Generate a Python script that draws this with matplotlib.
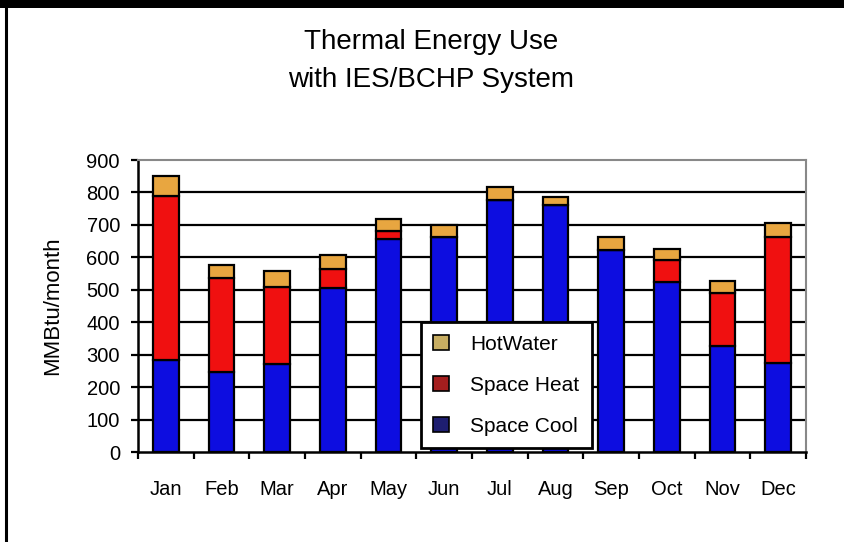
import matplotlib
matplotlib.use("Agg")
import matplotlib.pyplot as plt
from matplotlib.patches import Patch, Rectangle
from matplotlib.lines import Line2D

months = ["Jan", "Feb", "Mar", "Apr", "May", "Jun",
          "Jul", "Aug", "Sep", "Oct", "Nov", "Dec"]
space_cool = [285, 248, 272, 505, 656, 664, 778, 762, 623, 525, 327, 273]
space_heat = [505, 287, 238, 60, 26, 0, 0, 0, 0, 67, 164, 391]
hot_water = [60, 40, 47, 42, 36, 35, 40, 25, 40, 33, 36, 43]
y_ticks = [0, 100, 200, 300, 400, 500, 600, 700, 800, 900]

title = "Thermal Energy Use\nwith IES/BCHP System"
y_label = "MMBtu/month"
series_names = ["HotWater", "Space Heat", "Space Cool"]

c_cool = "#0d0de0"
c_heat = "#f01010"
c_hw = "#e8a640"
leg_colors = ["#c8ae62", "#a41e1e", "#1e1e70"]

plt.rcParams['font.family'] = ['Liberation Sans', 'DejaVu Sans']

W, H = 845, 542
fig = plt.figure(figsize=(W / 100, H / 100), dpi=100)
fig.patch.set_facecolor("white")

# frame decorations (top band, left line)
fig.add_artist(Rectangle((0, 1 - 8 / H), 1, 8 / H, transform=fig.transFigure,
                         facecolor="black", edgecolor="none"))
fig.add_artist(Line2D([6.5 / W, 6.5 / W], [0, 1], transform=fig.transFigure,
                      color="black", linewidth=2.2))

left, right, top, bottom = 138, 806, 160, 452
ax = fig.add_axes([left / W, 1 - bottom / H, (right - left) / W, (bottom - top) / H])

x = list(range(len(months)))
bw = 0.46
heat_bottom = space_cool
hw_bottom = [c + h for c, h in zip(space_cool, space_heat)]
ax.bar(x, space_cool, bw, color=c_cool, edgecolor="black", linewidth=1.6, zorder=3)
ax.bar(x, space_heat, bw, bottom=heat_bottom, color=c_heat, edgecolor="black",
       linewidth=1.6, zorder=3)
ax.bar(x, hot_water, bw, bottom=hw_bottom, color=c_hw, edgecolor="black",
       linewidth=1.6, zorder=3)

ax.set_xlim(-0.5, len(months) - 0.5)
ax.set_ylim(0, 900)
ax.set_yticks(y_ticks)
ax.set_yticklabels([str(v) for v in y_ticks], fontsize=14.5)
for v in y_ticks[1:-1]:
    ax.axhline(v, color="black", linewidth=1.6, zorder=1)

ax.set_xticks([i - 0.5 for i in range(len(months) + 1)])
ax.set_xticklabels([])
ax.set_xticks(x, minor=True)
ax.set_xticklabels(months, minor=True, fontsize=14.5)
ax.tick_params(axis="x", which="minor", length=0, pad=20)
ax.tick_params(axis="x", which="major", length=5, width=1.6, direction="out")
ax.tick_params(axis="y", length=5, width=1.6, direction="out", pad=8)

ax.spines["left"].set_linewidth(1.8)
ax.spines["bottom"].set_linewidth(1.8)
ax.spines["top"].set_color("#888888")
ax.spines["right"].set_color("#888888")
ax.spines["top"].set_linewidth(1.5)
ax.spines["right"].set_linewidth(1.5)

ax.set_ylabel(y_label, fontsize=16, labelpad=17)

handles = [Patch(facecolor=c, edgecolor="black", linewidth=1.2) for c in leg_colors]
leg = ax.legend(handles, series_names, loc="lower left",
                bbox_to_anchor=((421 - left) / (right - left), (bottom - 448) / (bottom - top)),
                fontsize=15, frameon=True, fancybox=False, framealpha=1,
                edgecolor="black", handlelength=0.75, handleheight=0.75,
                handletextpad=1.0, labelspacing=1.05, borderpad=0.6,
                borderaxespad=0)
leg.get_frame().set_linewidth(2.0)
leg.set_zorder(5)

fig.text(431 / W, 1 - 61 / H, title, ha="center", va="center", fontsize=20,
         linespacing=1.6)

fig.savefig("out.png", dpi=100)
